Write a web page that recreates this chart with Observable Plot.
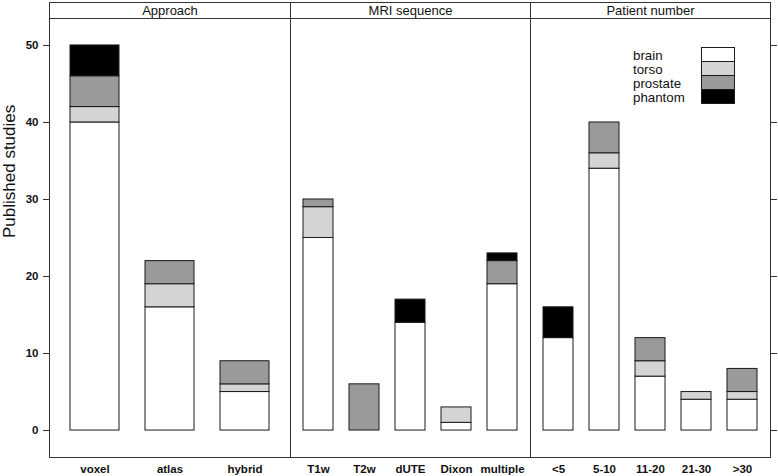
<!DOCTYPE html>
<html><head><meta charset="utf-8">
<script src="https://cdn.jsdelivr.net/npm/d3@7"></script>
<script src="https://cdn.jsdelivr.net/npm/@observablehq/plot@0.6"></script>
<style>
body{margin:0;background:#fff;}
#wrap{position:relative;width:778px;height:476px;overflow:hidden;background:#fff;font-family:"Liberation Sans",Arial,sans-serif;}
#wrap > svg{position:absolute;top:0;}
</style></head><body><div id="wrap"></div>
<script>
// ---- data ----
const series = ["brain", "torso", "prostate", "phantom"];
const yTicks = [0, 10, 20, 30, 40, 50];
const yTitle = "Published studies";

const approachTitle = "Approach";
const approachCats = ["voxel", "atlas", "hybrid"];
const approachBrain = [40, 16, 5];
const approachTorso = [2, 3, 1];
const approachProstate = [4, 3, 3];
const approachPhantom = [4, 0, 0];

const mriTitle = "MRI sequence";
const mriCats = ["T1w", "T2w", "dUTE", "Dixon", "multiple"];
const mriBrain = [25, 0, 14, 1, 19];
const mriTorso = [4, 0, 0, 2, 0];
const mriProstate = [1, 6, 0, 0, 3];
const mriPhantom = [0, 0, 3, 0, 1];

const patientTitle = "Patient number";
const patientCats = ["<5", "5-10", "11-20", "21-30", ">30"];
const patientBrain = [12, 34, 7, 4, 4];
const patientTorso = [0, 2, 2, 1, 1];
const patientProstate = [0, 4, 3, 0, 3];
const patientPhantom = [4, 0, 0, 0, 0];

// ---- styles ----
const fills = ["#ffffff", "#d4d4d4", "#9a9a9a", "#000000"];
const lineColor = "#333";
const font = "'Liberation Sans', Arial, sans-serif";

function rows(cats, cols) {
  const out = [];
  cats.forEach((c, i) => series.forEach((s, j) => {
    const v = cols[j][i];
    if (v > 0) out.push({cat: c, series: s, value: v});
  }));
  return out;
}

function panel(cats, cols, title, {left, width, marginLeft = 0, marginRight = 0, leftAxis = false, rightAxis = false}) {
  const marks = [
    Plot.frame({insetTop: -16, stroke: lineColor}),
    Plot.frame({stroke: lineColor}),
    Plot.barY(rows(cats, cols), {x: "cat", y: "value", fill: "series", stroke: "#1a1a1a", strokeWidth: 1}),
    Plot.axisX({tickSize: 0, tickPadding: 7, fontWeight: "bold", fontSize: 11.5, label: null}),
    Plot.text([title], {frameAnchor: "top", dy: -8, fontSize: 13, lineAnchor: "middle", fill: "#111"})
  ];
  if (leftAxis) {
    marks.push(Plot.axisY({ticks: yTicks, tickSize: 6, tickPadding: 5, fontWeight: "bold", fontSize: 11.5, label: null, stroke: lineColor}));
    marks.push(Plot.text([yTitle], {frameAnchor: "left", rotate: -90, dx: -40, fontSize: 17, fill: "#111"}));
  }
  if (rightAxis) {
    marks.push(Plot.axisY({anchor: "right", ticks: yTicks, tickSize: 6, tickFormat: () => "", label: null, stroke: lineColor}));
  }
  const svg = Plot.plot({
    width, height: 476,
    marginLeft, marginRight, marginTop: 18, marginBottom: 19,
    style: {fontFamily: font, background: "transparent", overflow: "visible", color: "#111"},
    x: {domain: cats, paddingInner: 0.34, paddingOuter: 0.27, axis: null},
    y: {domain: [-3.5, 53.5], axis: (leftAxis || rightAxis) ? undefined : null},
    color: {domain: series, range: fills},
    marks
  });
  svg.style.left = left + "px";
  return svg;
}

const wrap = document.getElementById("wrap");
wrap.appendChild(panel(approachCats, [approachBrain, approachTorso, approachProstate, approachPhantom], approachTitle,
  {left: 0, width: 290, marginLeft: 49, leftAxis: true}));
wrap.appendChild(panel(mriCats, [mriBrain, mriTorso, mriProstate, mriPhantom], mriTitle,
  {left: 290, width: 240}));
wrap.appendChild(panel(patientCats, [patientBrain, patientTorso, patientProstate, patientPhantom], patientTitle,
  {left: 530, width: 248, marginRight: 8, rightAxis: true}));

// legend (key) built from the series names and fills
const key = d3.select(wrap).append("svg")
  .attr("width", 110).attr("height", 62)
  .style("position", "absolute").style("left", "632px").style("top", "46px")
  .style("font-family", font).style("font-size", "13.3px");
series.forEach((s, i) => {
  key.append("text").attr("x", 1).attr("y", (i + 1) * 14 - 0.5).attr("fill", "#111").text(s);
  key.append("rect").attr("x", 69.5).attr("y", 1.5 + i * 14).attr("width", 33).attr("height", 14)
    .attr("fill", fills[i]).attr("stroke", "#1a1a1a");
});
</script></body></html>
